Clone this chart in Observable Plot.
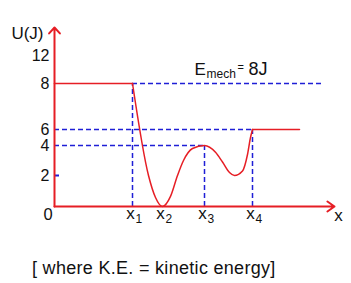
<!DOCTYPE html>
<html><head><meta charset="utf-8">
<script src="https://cdn.jsdelivr.net/npm/d3@7"></script>
<script src="https://cdn.jsdelivr.net/npm/@observablehq/plot@0.6"></script>
<style>
body{margin:0;background:#fff;font-family:"Liberation Sans",Arial,sans-serif;}
#wrap{position:relative;width:351px;height:283px;overflow:hidden;}
#cap{position:absolute;left:32px;top:259px;font-size:18px;line-height:18px;letter-spacing:0.3px;color:#111;white-space:nowrap;}
</style></head><body>
<div id="wrap"><div id="chart"></div><div id="cap">[ where K.E. = kinetic energy]</div></div>
<script>
// tick labels (U in joules)
const yTickValues = [2, 4, 6, 8, 12];
const yTickLabels = ["2", "4", "6", "8", "12"];
// marked positions on the x axis
const xMarkPos = [78, 108, 150, 198];
const xMarkSub = ["1", "2", "3", "4"];
// potential energy curve (schematic x units)
const flatLeftX = [0, 78];
const flatLeftU = [8, 8];
const curveX = [78, 94, 101, 108, 116, 123, 129, 138, 150, 161, 168, 175, 180, 188, 193, 196, 198];
const curveU = [8, 2.0, 0.58, 0, 0.65, 2.0, 3.0, 3.8, 4.0, 3.55, 2.9, 2.2, 2.0, 2.3, 3.4, 5.0, 6];
const flatRightX = [198, 245];
const flatRightU = [6, 6];
// dashed guide levels
const levelU = [8, 6, 4];
const levelFrom = [78, 0, 0];
const levelTo = [270, 198, 150];
const dropX = [78, 150, 198];
const dropU = [8, 4, 6];
const Emech = 8;

const RED = "#e61e25", BLUE = "#1f1fd6", INK = "#111";
const FONT = "Liberation Sans, Arial, sans-serif";
// the drawing's U axis is schematic (not to scale): piecewise spacing of the labelled levels
const warp = d3.scaleLinear().domain([0, 2, 4, 6, 8, 12]).range([0, 31, 61, 77, 123, 151]);
const pts = (xs, us) => xs.map((x, i) => ({x, u: us[i]}));
const levels = levelU.map((u, i) => ({u, a: levelFrom[i], b: levelTo[i]}));
const drops = dropX.map((x, i) => ({x, u: dropU[i]}));
const yticks = yTickValues.map((v, i) => ({v, t: yTickLabels[i]}));
const xmarks = xMarkPos.map((p, i) => ({p, s: xMarkSub[i]}));

const chart = Plot.plot({
  width: 351, height: 250, margin: 0,
  style: {fontFamily: FONT, background: "transparent"},
  x: {domain: [0, 280], range: [54, 334], axis: null},
  y: {transform: warp, domain: [0, 151], range: [206, 55], axis: null},
  marks: [
    Plot.ruleY(levels, {y: "u", x1: "a", x2: "b", stroke: BLUE, strokeWidth: 1.5, strokeDasharray: "5,3"}),
    Plot.ruleX(drops, {x: "x", y1: 0, y2: "u", stroke: BLUE, strokeWidth: 1.5, strokeDasharray: "5,3"}),
    Plot.ruleY([2], {y: d => d, x1: 0, x2: 5, stroke: BLUE, strokeWidth: 2}),
    Plot.line(pts(flatLeftX, flatLeftU), {x: "x", y: "u", stroke: RED, strokeWidth: 1.7}),
    Plot.line(pts(curveX, curveU), {x: "x", y: "u", stroke: RED, strokeWidth: 1.5, curve: "monotone-x"}),
    Plot.line(pts(flatRightX, flatRightU), {x: "x", y: "u", stroke: RED, strokeWidth: 1.5}),
    Plot.arrow([0], {x1: 0, y1: 0, x2: 280, y2: 0, stroke: RED, strokeWidth: 2, headLength: 6.5, headAngle: 70}),
    Plot.arrow([0], {x1: 0, y1: 0, x2: 0, y2: 16, stroke: RED, strokeWidth: 2, headLength: 6, headAngle: 85}),
    Plot.text(yticks, {x: 0, y: "v", text: "t", dx: -5, textAnchor: "end", fontSize: 16, fill: INK}),
    Plot.text(["0"], {x: 0, y: 0, text: d => d, dx: -6.5, dy: 8, fontSize: 16.5, fill: INK}),
    Plot.text(["U(J)"], {x: 0, y: 15.1, text: d => d, dx: -11, textAnchor: "end", fontSize: 17, fill: INK}),
    Plot.text(xmarks, {x: "p", y: 0, text: () => "x", dx: -2, dy: 7.5, fontSize: 17, fill: INK}),
    Plot.text(xmarks, {x: "p", y: 0, text: "s", dx: 3, dy: 13, textAnchor: "start", fontSize: 12, fill: INK}),
    Plot.text(["x"], {x: 280, y: 0, text: d => d, dx: 4, dy: 9, fontSize: 17, fill: INK}),
    Plot.text(["E"], {x: 140, y: 10, text: d => d, textAnchor: "start", fontSize: 17, fill: INK}),
    Plot.text(["mech"], {x: 140, y: 10, text: d => d, dx: 12, dy: 5, textAnchor: "start", fontSize: 12, fill: INK}),
    Plot.text(["="], {x: 140, y: 10, text: d => d, dx: 43, dy: -2, textAnchor: "start", fontSize: 11, fill: INK}),
    Plot.text([`${Emech}J`], {x: 140, y: 10, text: d => d, dx: 54, textAnchor: "start", fontSize: 18, fill: INK})
  ]
});
document.getElementById("chart").append(chart);
</script>
</body></html>
